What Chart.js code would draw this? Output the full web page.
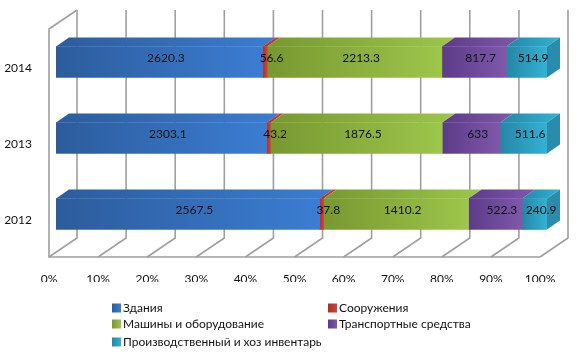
<!DOCTYPE html>
<html>
<head>
<meta charset="utf-8">
<script src="https://cdn.jsdelivr.net/npm/chart.js@4"></script>
<style>
  body { margin: 0; background: #fff; }
  #wrap { width: 580px; height: 352px; }
</style>
</head>
<body>
<div id="wrap"><canvas id="myChart"></canvas></div>
<script>
const years = ['2014', '2013', '2012'];
const zdaniya = [2620.3, 2303.1, 2567.5];
const sooruzheniya = [56.6, 43.2, 37.8];
const mashiny = [2213.3, 1876.5, 1410.2];
const transport = [817.7, 633, 522.3];
const inventar = [514.9, 511.6, 240.9];
const xTicks = [0, 10, 20, 30, 40, 50, 60, 70, 80, 90, 100];

const seriesNames = ['Здания', 'Сооружения', 'Машины и оборудование', 'Транспортные средства', 'Производственный и хоз инвентарь'];
const seriesValues = [zdaniya, sooruzheniya, mashiny, transport, inventar];
// dark -> light along each segment
const shades = [
  ['#2c5c9c', '#3b7dd2'],
  ['#a8302a', '#d0443a'],
  ['#789830', '#9dc64b'],
  ['#5c3b88', '#7f58ac'],
  ['#2686a6', '#32b2d4']
];
const endFace = '#2a8cad';

const totals = years.map((y, i) => seriesValues.reduce((s, arr) => s + arr[i], 0));
const pct = seriesValues.map(arr => arr.map((v, i) => v / totals[i] * 100));

const DX = 13, DY = -9;
const FONT = 'Lato, "Open Sans", sans-serif';

function segGradient(c, si) {
  const chart = c.chart;
  const xs = chart.scales.x;
  if (!xs || !chart.chartArea) return shades[si][1];
  let start = 0;
  for (let k = 0; k < si; k++) start += pct[k][c.dataIndex];
  const x0 = xs.getPixelForValue(start);
  const x1 = xs.getPixelForValue(start + pct[si][c.dataIndex]);
  const g = chart.ctx.createLinearGradient(x0, 0, Math.max(x1, x0 + 1), 0);
  g.addColorStop(0, shades[si][0]);
  g.addColorStop(1, shades[si][1]);
  return g;
}

const box3d = {
  id: 'box3d',
  beforeDatasetsDraw(chart) {
    const ctx = chart.ctx;
    const xs = chart.scales.x;
    const backTop = 10, backBot = 238, frontBot = 257;
    ctx.save();
    ctx.strokeStyle = '#9f9f9f';
    ctx.lineWidth = 1.6;
    xTicks.forEach(t => {
      const px = xs.getPixelForValue(t);
      ctx.beginPath();
      ctx.moveTo(px + 21, backTop);
      ctx.lineTo(px + 21, backBot);
      ctx.lineTo(px - 7, frontBot);
      ctx.stroke();
    });
    const l = xs.getPixelForValue(0), r = xs.getPixelForValue(100);
    ctx.beginPath();
    ctx.moveTo(l + 21, backTop);
    ctx.lineTo(l - 7, backTop + 19);
    ctx.lineTo(l - 7, frontBot);
    ctx.lineTo(r - 7, frontBot);
    ctx.stroke();
    ctx.restore();
  },
  afterDatasetsDraw(chart) {
    const ctx = chart.ctx;
    ctx.save();
    const n = chart.data.datasets.length;
    chart.data.datasets.forEach((ds, si) => {
      chart.getDatasetMeta(si).data.forEach((bar, i) => {
        const p = bar.getProps(['x', 'y', 'base', 'height'], true);
        const x0 = p.base, x1 = p.x;
        const yt = p.y - p.height / 2, yb = p.y + p.height / 2;
        const g = ctx.createLinearGradient(x0, 0, Math.max(x1 + DX, x0 + 1), 0);
        g.addColorStop(0, shades[si][0]);
        g.addColorStop(1, shades[si][1]);
        ctx.fillStyle = g;
        ctx.beginPath();
        ctx.moveTo(x0, yt);
        ctx.lineTo(x0 + DX, yt + DY);
        ctx.lineTo(x1 + DX, yt + DY);
        ctx.lineTo(x1, yt);
        ctx.closePath();
        ctx.fill();
        if (si === n - 1) {
          ctx.fillStyle = endFace;
          ctx.beginPath();
          ctx.moveTo(x1, yt);
          ctx.lineTo(x1 + DX, yt + DY);
          ctx.lineTo(x1 + DX, yb + DY);
          ctx.lineTo(x1, yb);
          ctx.closePath();
          ctx.fill();
        }
      });
    });
    // value labels, centred on the box volume
    ctx.fillStyle = '#111';
    ctx.font = '12px ' + FONT;
    ctx.textAlign = 'center';
    ctx.textBaseline = 'middle';
    chart.data.datasets.forEach((ds, si) => {
      chart.getDatasetMeta(si).data.forEach((bar, i) => {
        const p = bar.getProps(['x', 'y', 'base'], true);
        const cx = (p.x + p.base) / 2 + DX / 2;
        ctx.fillText(String(seriesValues[si][i]), cx, p.y + DY / 2 + 1);
      });
    });
    ctx.restore();
  },
  afterDraw(chart) {
    const ctx = chart.ctx;
    const cols = [112, 328];
    const rows = [308, 324, 342];
    ctx.save();
    ctx.font = '12px ' + FONT;
    ctx.textBaseline = 'middle';
    ctx.textAlign = 'left';
    chart.data.datasets.forEach((ds, si) => {
      const x = cols[si % 2], y = rows[Math.floor(si / 2)];
      const g = ctx.createLinearGradient(x, 0, x + 9, 0);
      g.addColorStop(0, shades[si][0]);
      g.addColorStop(1, shades[si][1]);
      ctx.fillStyle = g;
      ctx.fillRect(x, y - 4.5, 9, 9);
      ctx.fillStyle = '#111';
      ctx.fillText(ds.label, x + 11, y);
    });
    ctx.restore();
  }
};

const ctx = document.getElementById('myChart');

let myChart = new Chart(ctx, {
  type: 'bar',
  data: {
    labels: years,
    datasets: seriesNames.map((name, si) => ({
      label: name,
      data: pct[si],
      backgroundColor: c => segGradient(c, si),
      borderWidth: 0,
      barThickness: 31,
      categoryPercentage: 1
    }))
  },
  options: {
    indexAxis: 'y',
    responsive: true,
    maintainAspectRatio: false,
    animation: false,
    layout: { padding: { top: 24, right: 33, bottom: 70, left: 0 } },
    plugins: {
      legend: { display: false },
      tooltip: { enabled: false }
    },
    scales: {
      x: {
        stacked: true,
        min: 0,
        max: 100,
        afterBuildTicks: s => { s.ticks = xTicks.map(v => ({ value: v })); },
        afterFit: s => { s.height = 30; },
        grid: { display: false },
        border: { display: false },
        ticks: {
          color: '#111',
          font: { family: FONT, size: 12 },
          padding: 12,
          labelOffset: -7,
          maxRotation: 0,
          callback: v => v + '%'
        }
      },
      y: {
        stacked: true,
        afterFit: s => { s.width = 56; },
        grid: { display: false },
        border: { display: false },
        ticks: {
          color: '#111',
          font: { family: FONT, size: 12 },
          padding: 16,
          labelOffset: 6
        }
      }
    }
  },
  plugins: [box3d]
});
</script>
</body>
</html>
